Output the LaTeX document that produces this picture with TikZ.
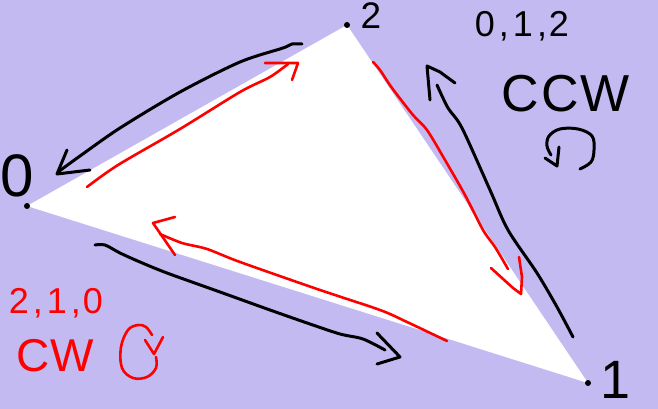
\documentclass[tikz,border=0pt]{standalone}
\usepackage{fontspec}
\setmainfont{Liberation Sans}
\definecolor{bgl}{RGB}{196,186,242}
\definecolor{pen}{RGB}{255,0,0}
\begin{document}
\begin{tikzpicture}[x=1pt,y=-1pt,
  blk/.style={draw=black,line width=3pt,line cap=round,line join=round},
  rd/.style={draw=pen,line width=2.6pt,line cap=round,line join=round},
  lbl/.style={inner sep=0pt,anchor=base},
  vdot/.style={circle,fill=black,inner sep=0pt,minimum size=6pt}]
\useasboundingbox (0,0) rectangle (658,409);
\fill[bgl] (0,0) rectangle (658,409);
% triangle
\coordinate (v0) at (27,206);
\coordinate (v1) at (588,383);
\coordinate (v2) at (347,25);
\fill[white] (v0) -- (v2) -- (v1) -- cycle;
\node[vdot] (d0) at (v0) {};
\node[vdot] (d1) at (v1) {};
\node[vdot] (d2) at (v2) {};
% vertex labels
\node[lbl,font=\fontsize{60}{60}\selectfont] (l0) at (17,196) {0};
\node[lbl,font=\fontsize{37}{37}\selectfont,text height=27pt] (l2) at (371,29) {2};
\node[lbl,font=\fontsize{54}{54}\selectfont] (l1) at (616,398) {1};
% black arrows
\draw[blk] plot[smooth,tension=0.5] coordinates {(302,44) (292,44) (283,48) (240,62) (180,92) (120,128) (80,156) (58,172)};
\draw[blk] (67,150) -- (57,174) -- (90,170);
\draw[blk] plot[smooth,tension=0.5] coordinates {(573,337) (557,307) (537,273) (508,230) (490,190) (462,128) (448,108) (437,85)};
\draw[blk] (430,100) -- (427,66) -- (440,72) -- (455,83);
\draw[blk] plot[smooth,tension=0.5] coordinates {(95,245) (105,245) (120,253) (140,262) (167,273) (220,292) (270,310) (310,324) (340,334) (363,339) (385,350)};
\draw[blk] (377,333) -- (400,357) -- (377,364);
% red arrows
\draw[rd] plot[smooth,tension=0.5] coordinates {(87,187) (118,165) (180,129) (240,92) (270,77) (288,64)};
\draw[rd] (265,63) -- (298,63) -- (292,80);
\draw[rd] plot[smooth,tension=0.5] coordinates {(373,62) (380,70) (392,88) (413,115) (427,130) (445,160) (465,195) (483,230) (495,247) (508,269)};
\draw[rd] (519,257) -- (522,277) -- (521,294) -- (513,288) -- (502,278) -- (491,268);
\draw[rd] plot[smooth,tension=0.5] coordinates {(447,341) (407,322) (380,310) (320,290) (240,262) (207,249) (182,243) (160,234)};
\draw[rd] (175,217) -- (153,223) -- (175,255);
% CCW legend
\node[lbl,font=\fontsize{36}{36}\selectfont] (t012) at (522,37) {0\kern4pt,\kern4pt1\kern4pt,\kern2pt2};
\node[lbl,font=\fontsize{52}{52}\selectfont] (tccw) at (566,112) {C\kern2ptC\kern2ptW};
\draw[blk] plot[smooth,tension=0.6] coordinates {(580,169) (591,162) (594,150) (592,136) (578,129) (560,129) (549,136) (547,146) (551,155)};
\draw[blk] (559,147) -- (557,166) -- (545,158);
% CW legend
\node[lbl,font=\fontsize{36}{36}\selectfont,text=pen] (t210) at (56,313) {2\kern4pt,\kern4pt1\kern4pt,\kern2pt0};
\node[lbl,font=\fontsize{46}{46}\selectfont,text=pen] (tcw) at (55,371) {C\kern1ptW};
\draw[rd] plot[smooth,tension=0.6] coordinates {(152,335) (146,327) (138,325) (128,330) (121,347) (122,368) (133,378) (147,377) (156,368) (156,357)};
\draw[rd] (145,340) -- (154,354) -- (163,337);
\end{tikzpicture}
\end{document}
